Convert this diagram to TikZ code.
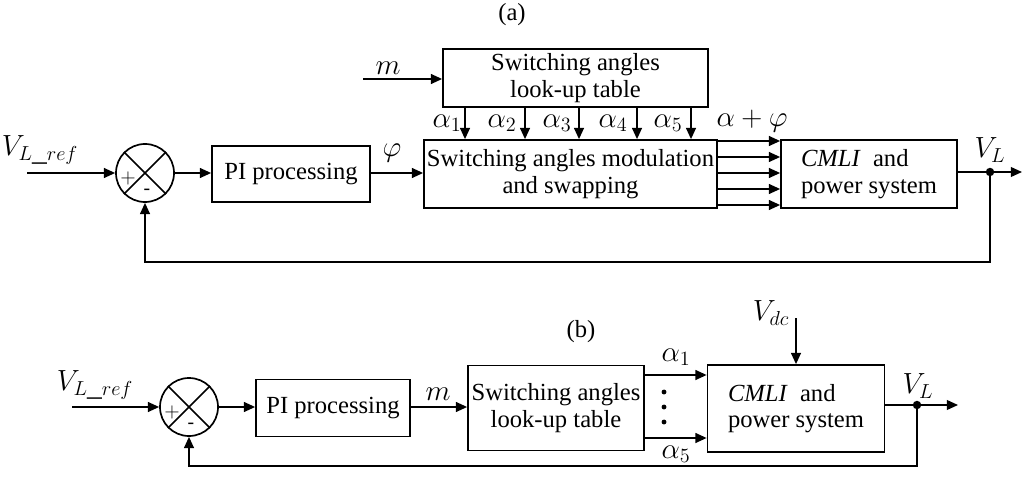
\documentclass[tikz,border=0pt]{standalone}
\usepackage{fontspec}
\setmainfont{Liberation Serif}
\usetikzlibrary{positioning,arrows.meta}

\begin{document}
\begin{tikzpicture}[x=0.025cm,y=-0.025cm,line width=1.2pt,
      >={Triangle[length=8pt,width=7pt]},
      blk/.style={draw,rectangle,align=center,inner sep=0pt,
        font=\fontsize{17.5}{19}\selectfont},
      sum/.style={draw,circle,minimum size=1.45cm,inner sep=0pt},
      lbl/.style={inner sep=0pt,font=\fontsize{17.5}{19}\selectfont},
      mlbl/.style={inner sep=0pt,font=\fontsize{21}{23}\selectfont},
      sgn/.style={inner sep=0pt,font=\fontsize{14}{14}\selectfont},
      jn/.style={circle,fill,inner sep=0pt,minimum size=6pt},
      dt/.style={circle,fill,inner sep=0pt,minimum size=3.5pt}]

    \useasboundingbox (0,0) rectangle (1024,498);

    % (a)
    \node[lbl] (tita) at (512,15) {(a)};

    \node[sum] (sa) at (145,173) {};
    \draw (sa.north west) -- (sa.south east) (sa.north east) -- (sa.south west);
    \node[sgn] (pla) at (128,178) {$+$};
    \node[sgn] (mia) at (147,192) {-};

    \node[blk,minimum width=3.95cm,minimum height=1.4cm] (pia) at (291,174) {PI processing};
    \node[blk,minimum width=7.325cm,minimum height=1.7cm] (moda) at (570.5,174)
      {Switching angles modulation\\and swapping};
    \node[blk,minimum width=6.625cm,minimum height=1.45cm] (luta) at (575.5,78)
      {Switching angles\\look-up table};
    \node[blk,align=left,minimum width=4.4cm,minimum height=1.7cm] (cmlia) at (869,174)
      {\textit{CMLI}\ \ and\\power system};

    \coordinate (ina) at (27,173);
    \coordinate (ma) at (363,79);
    \coordinate (outa) at (1022,172);
    \node[jn] (ja) at (990,172) {};

    \draw[->] (ina) -- (sa.west);
    \node[mlbl] (vrefa) at (40,150) {$V_{L\_ref}$};
    \draw[->] (sa.east) -- (sa.east -| pia.west);
    \draw[->] (pia.east |- sa.east) -- (moda.west |- sa.east);
    \node[mlbl] (phia) at (392,153) {$\varphi$};
    \draw[->] (ma) -- (ma -| luta.west);
    \node[mlbl] (mlba) at (388,68) {$m$};

    \foreach \x/\i/\lx in {465/1/447,525/2/502,579/3/557,637/4/613,691/5/668}{
      \draw[->] (\x,0 |- luta.south) -- (\x,0 |- moda.north);
      \node[mlbl] (al\i) at (\lx,123) {$\alpha_\i$};
    }

    \foreach \y in {141,157,173,189,205}
      \draw[->] (moda.east |- 0,\y) -- (cmlia.west |- 0,\y);
    \node[mlbl] (apa) at (752,121) {$\alpha+\varphi$};

    \draw[->] (cmlia.east |- outa) -- (outa);
    \node[mlbl] (vla) at (990,150) {$V_L$};
    \draw[->] (ja.center) -- ++(0,90) -| (sa.south);

    % (b)
    \node[lbl] (titb) at (581,332) {(b)};

    \node[sum] (sb) at (189,407) {};
    \draw (sb.north west) -- (sb.south east) (sb.north east) -- (sb.south west);
    \node[sgn] (plb) at (172,412) {$+$};
    \node[sgn] (mib) at (191,426) {-};

    \node[blk,minimum width=3.85cm,minimum height=1.425cm] (pib) at (333,408) {PI processing};
    \node[blk,minimum width=4.4cm,minimum height=2.125cm] (lutb) at (556,408)
      {Switching angles\\look-up table};
    \node[blk,align=left,minimum width=4.425cm,minimum height=2.175cm] (cmlib) at (796,408.5)
      {\textit{CMLI}\ \ and\\power system};

    \coordinate (inb) at (72,407);
    \coordinate (vdc) at (796,318);
    \coordinate (outb) at (958,405);
    \node[jn] (jb) at (917,405) {};

    \draw[->] (inb) -- (sb.west);
    \node[mlbl] (vrefb) at (95,385) {$V_{L\_ref}$};
    \draw[->] (sb.east) -- (sb.east -| pib.west);
    \draw[->] (pib.east |- sb.east) -- (lutb.west |- sb.east);
    \node[mlbl] (mlbb) at (438,394) {$m$};

    \draw[->] (lutb.east |- 0,375) -- (cmlib.west |- 0,375);
    \draw[->] (lutb.east |- 0,438) -- (cmlib.west |- 0,438);
    \node[mlbl] (a1b) at (676,357) {$\alpha_1$};
    \node[mlbl] (a5b) at (676,454) {$\alpha_5$};
    \foreach \y/\k in {392/1,407/2,422/3}
      \node[dt] (d\k) at (664,\y) {};

    \draw[->] (vdc) -- (vdc |- cmlib.north);
    \node[mlbl] (vdcl) at (771,313) {$V_{dc}$};

    \draw[->] (cmlib.east |- outb) -- (outb);
    \node[mlbl] (vlb) at (918,386) {$V_L$};
    \draw[->] (jb.center) -- ++(0,61) -| (sb.south);

\end{tikzpicture}
\end{document}
